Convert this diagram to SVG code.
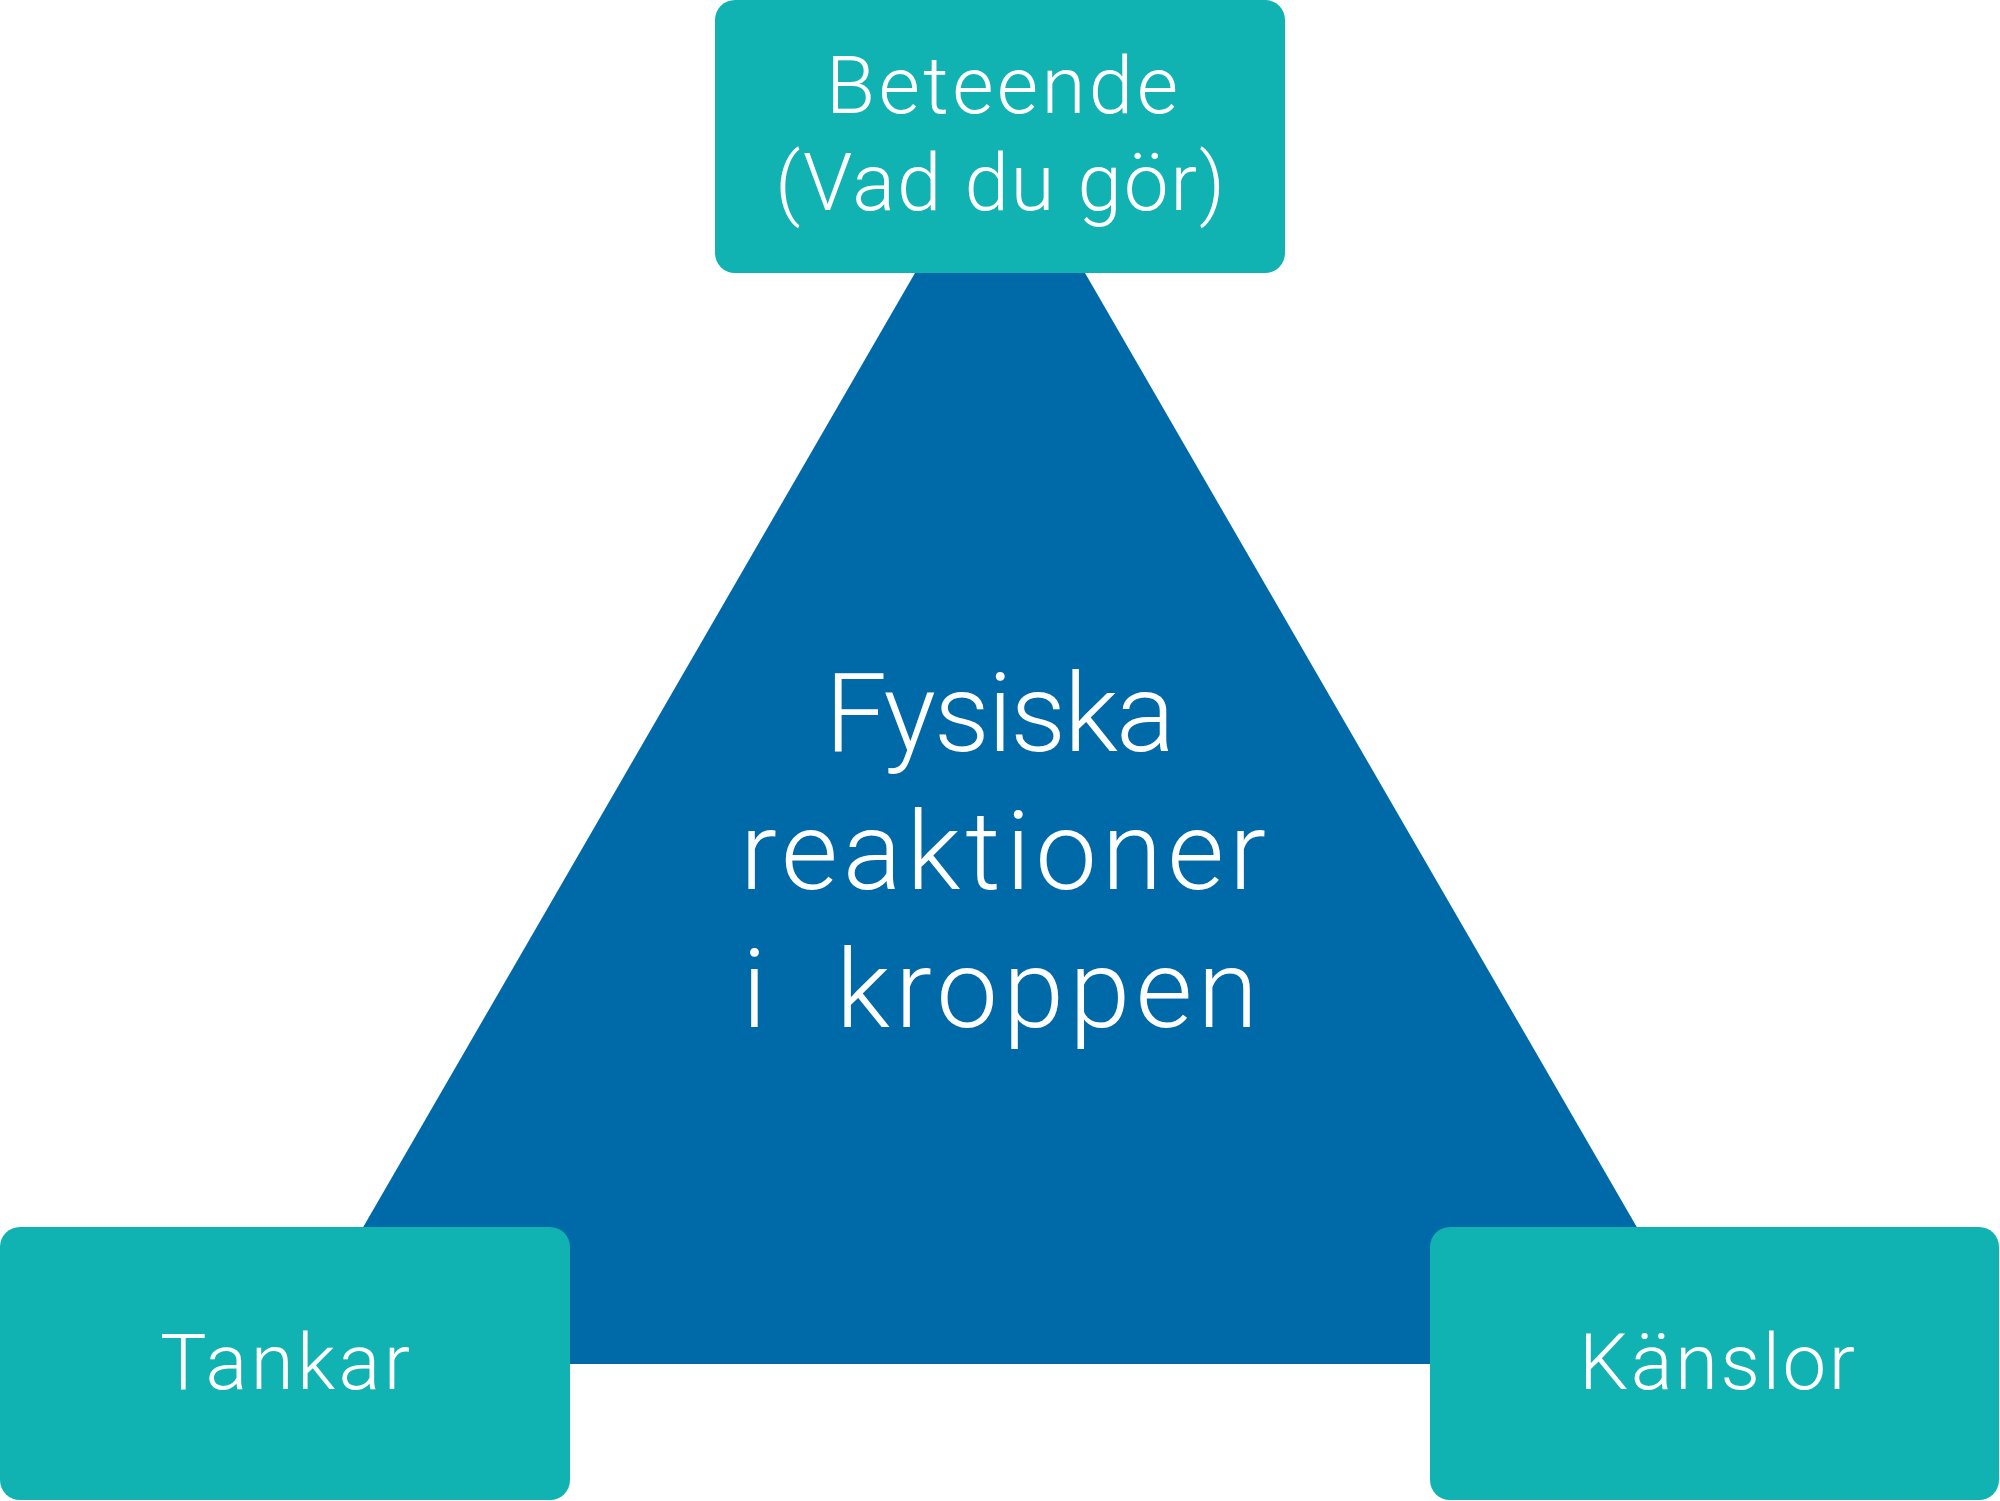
<svg xmlns="http://www.w3.org/2000/svg" width="2000" height="1501" viewBox="0 0 2000 1501">
<style>
.box{fill:#10B2B2}
.tri{fill:#0069A8}
.lbl{font-family:Roboto,"Open Sans","Liberation Sans",sans-serif;font-weight:300;fill:#FFFFFF;text-anchor:middle;white-space:pre;font-variant-ligatures:none}
</style>
<rect width="2000" height="1501" fill="#FFFFFF"/>
<g id="center">
<polygon class="tri" points="1000,126 1716,1364 284,1364"/>
<text class="lbl" font-size="110" x="1000" y="751" textLength="350" lengthAdjust="spacing">Fysiska</text>
<text class="lbl" font-size="110" x="1003" y="889" textLength="526" lengthAdjust="spacing">reaktioner</text>
<text class="lbl" font-size="110" x="1000" y="1027" textLength="516" lengthAdjust="spacing" xml:space="preserve">i  kroppen</text>
</g>
<g id="connectors"></g>
<g id="beteende">
<rect class="box" x="715" y="0" width="570" height="273" rx="20"/>
<text class="lbl" font-size="80" x="1002" y="113" textLength="352" lengthAdjust="spacing">Beteende</text>
<text class="lbl" font-size="80" x="1000" y="210" textLength="450" lengthAdjust="spacing">(Vad du gör)</text>
</g>
<g id="tankar">
<rect class="box" x="0" y="1227" width="570" height="273" rx="20"/>
<text class="lbl" font-size="78" x="285" y="1389" textLength="250" lengthAdjust="spacing">Tankar</text>
</g>
<g id="kanslor">
<rect class="box" x="1430" y="1227" width="569" height="273" rx="20"/>
<text class="lbl" font-size="78" x="1717" y="1389" textLength="276" lengthAdjust="spacing">Känslor</text>
</g>
</svg>
